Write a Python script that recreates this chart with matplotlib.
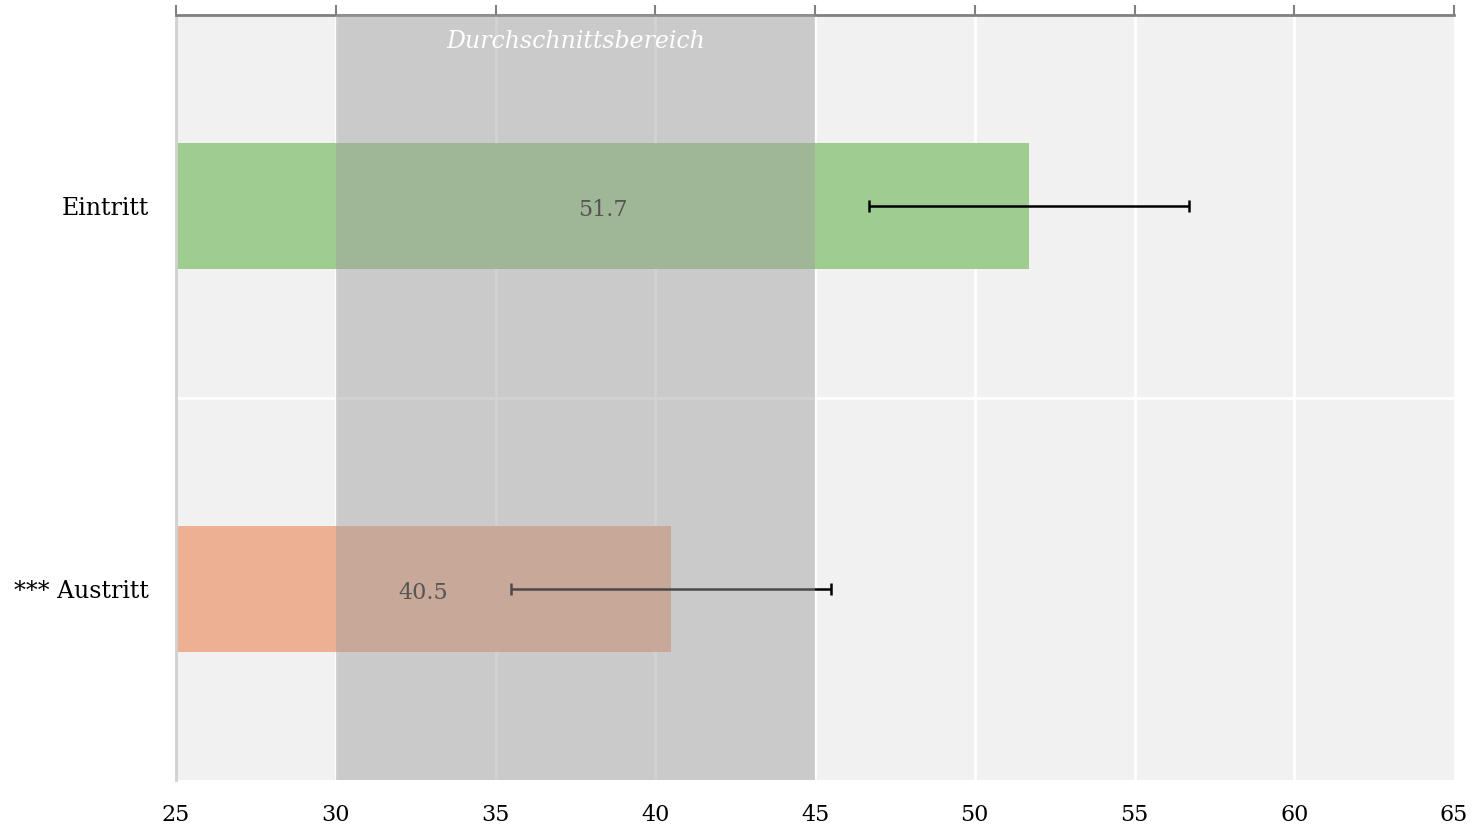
import matplotlib
matplotlib.use("Agg")
import matplotlib.pyplot as plt

# data
categories = ["*** Austritt", "Eintritt"]
values = [40.5, 51.7]
errors = [5.0, 5.0]
bar_colors = ["#edb092", "#9fcd8f"]
avg_low, avg_high = 30, 45
ticks = [25, 30, 35, 40, 45, 50, 55, 60, 65]

plt.rcParams['font.family'] = ['DejaVu Serif']

fig = plt.figure(figsize=(14.78, 8.32), dpi=100)
ax = fig.add_axes([176 / 1478, 52 / 832, 1278 / 1478, 765 / 832])
ax.set_facecolor("#f1f1f1")

ypos = list(range(len(categories)))
base = ticks[0]

# bars start at the left edge of the axis
ax.barh(ypos, [v - base for v in values], left=base, height=0.33,
        color=bar_colors, zorder=2)
ax.errorbar(values, ypos, xerr=errors, fmt="none", ecolor="black",
            elinewidth=1.8, capsize=4, capthick=1.8, zorder=3)

# average range band on top of bars
ax.axvspan(avg_low, avg_high, color="#a0a0a0", alpha=0.47, lw=0, zorder=4)
ax.text((avg_low + avg_high) / 2, 1.43, "Durchschnittsbereich", color="white",
        style="italic", ha="center", va="center", fontsize=17, zorder=6)

for y, v in zip(ypos, values):
    ax.text((base + v) / 2, y - 0.01, f"{v:.1f}", ha="center", va="center",
            fontsize=16, color="#555555", zorder=6)

ax.set_xlim(ticks[0], ticks[-1])
ax.set_ylim(-0.5, 1.5)
ax.set_xticks(ticks)
ax.set_yticks(ypos)
ax.set_yticklabels(categories, fontsize=17)

# white grid
for t in ticks[1:-1]:
    ax.axvline(t, color="white", lw=2, zorder=1)
ax.axhline(0.5, color="white", lw=2, zorder=1)

# bottom labels, top axis line with ticks
ax.tick_params(axis="x", which="both", bottom=False, top=True, labelbottom=True,
               labeltop=False, direction="out", length=7, width=1.5,
               color="#808080", pad=10, labelsize=16)
ax.tick_params(axis="y", left=False, pad=16)
for s in ["bottom", "right"]:
    ax.spines[s].set_visible(False)
ax.spines["top"].set_color("#808080")
ax.spines["top"].set_linewidth(2)
ax.spines["left"].set_color("#d0d0d0")
ax.spines["left"].set_linewidth(2)

fig.savefig("out.png", dpi=100)
